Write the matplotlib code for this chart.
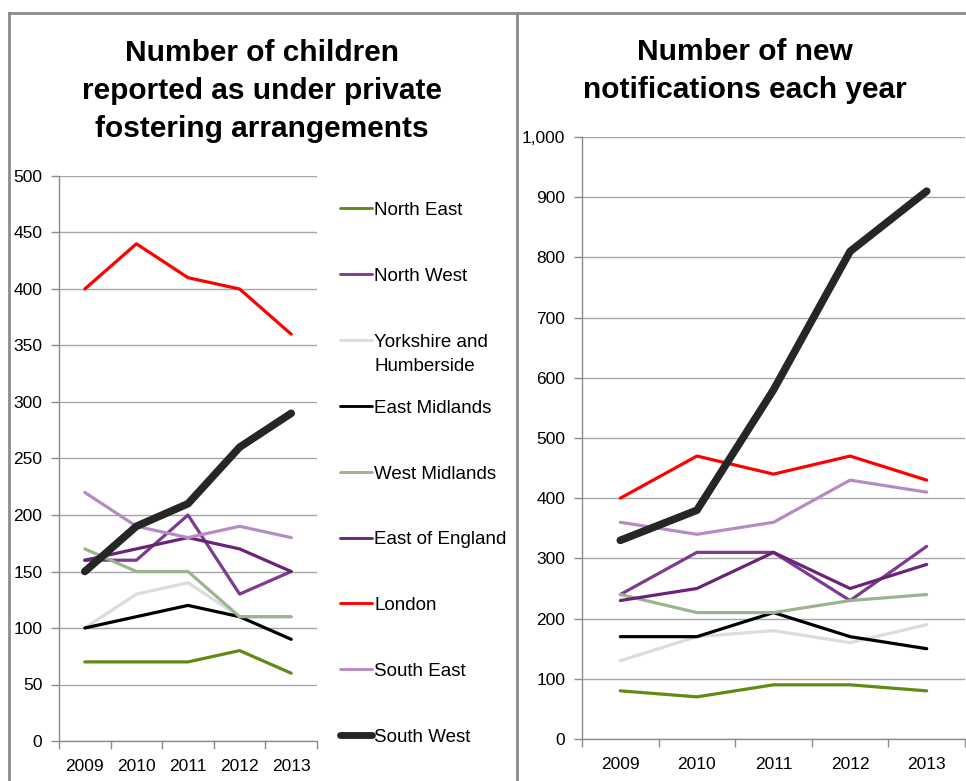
import numpy as np
import matplotlib.pyplot as plt
from matplotlib.lines import Line2D
from matplotlib.ticker import MultipleLocator, FuncFormatter

plt.rcParams['font.family'] = ['Liberation Sans', 'DejaVu Sans']

years = ['2009', '2010', '2011', '2012', '2013']
regions = ['North East', 'North West', 'Yorkshire and\nHumberside', 'East Midlands',
           'West Midlands', 'East of England', 'London', 'South East', 'South West']

# children under private fostering arrangements
children = {
    'North East': [70, 70, 70, 80, 60],
    'North West': [160, 160, 200, 130, 150],
    'Yorkshire and\nHumberside': [100, 130, 140, 110, 110],
    'East Midlands': [100, 110, 120, 110, 90],
    'West Midlands': [170, 150, 150, 110, 110],
    'East of England': [160, 170, 180, 170, 150],
    'London': [400, 440, 410, 400, 360],
    'South East': [220, 190, 180, 190, 180],
    'South West': [150, 190, 210, 260, 290],
}

# new notifications each year
notifications = {
    'North East': [80, 70, 90, 90, 80],
    'North West': [240, 310, 310, 230, 320],
    'Yorkshire and\nHumberside': [130, 170, 180, 160, 190],
    'East Midlands': [170, 170, 210, 170, 150],
    'West Midlands': [240, 210, 210, 230, 240],
    'East of England': [230, 250, 310, 250, 290],
    'London': [400, 470, 440, 470, 430],
    'South East': [360, 340, 360, 430, 410],
    'South West': [330, 380, 580, 810, 910],
}

colors = {
    'North East': '#5f8a14',
    'North West': '#7d3a8f',
    'Yorkshire and\nHumberside': '#dcdcdc',
    'East Midlands': '#000000',
    'West Midlands': '#9db38f',
    'East of England': '#6a2477',
    'London': '#ff0000',
    'South East': '#b58cc2',
    'South West': '#262626',
}
widths = {r: 2.3 for r in regions}
widths['South West'] = 5.5

W, H = 966, 781
fig = plt.figure(figsize=(W / 100, H / 100), dpi=100)
ax1 = fig.add_axes([59/W, 40/H, 258/W, 565/H])
ax2 = fig.add_axes([582/W, 42/H, 383/W, 602/H])

x = np.arange(len(years))


def style(ax, top, step, fmt):
    ax.set_xlim(-0.5, len(years) - 0.5)
    ax.set_ylim(0, top)
    ax.yaxis.set_major_locator(MultipleLocator(step))
    ax.yaxis.set_major_formatter(FuncFormatter(fmt))
    ax.set_xticks(x)
    ax.set_xticklabels(years)
    ax.set_xticks(np.arange(-0.5, len(years)), minor=True)
    ax.tick_params(axis='x', which='major', length=0, pad=13, labelsize=12.5)
    ax.tick_params(axis='x', which='minor', length=6, color='#8c8c8c', width=1)
    ax.tick_params(axis='y', length=6, color='#8c8c8c', width=1, pad=6, labelsize=12.5)
    ax.grid(axis='y', color='#a6a6a6', linewidth=1)
    ax.set_axisbelow(True)
    for s in ['top', 'right']:
        ax.spines[s].set_visible(False)
    for s in ['left', 'bottom']:
        ax.spines[s].set_color('#8c8c8c')
        ax.spines[s].set_linewidth(1)


for r in regions:
    ax1.plot(x, children[r], color=colors[r], lw=widths[r],
             solid_capstyle='round', solid_joinstyle='round')
    ax2.plot(x, notifications[r], color=colors[r], lw=widths[r],
             solid_capstyle='round', solid_joinstyle='round')

style(ax1, 500, 50, lambda v, p: f'{int(v)}')
style(ax2, 1000, 100, lambda v, p: f'{int(v):,}')

# legend, Excel style: fixed slots, two-line label spills downwards
for i, r in enumerate(regions):
    yc = 1 - (208 + i * 65.9) / H
    fig.add_artist(Line2D([340/W, 372/W], [yc, yc], color=colors[r], lw=widths[r] * 0.9,
                          solid_capstyle='round', transform=fig.transFigure))
    fig.text(374/W, yc + 6/H, r, ha='left', va='top', fontsize=13.5, linespacing=1.55)

fig.text(262/W, 1 - 91/H, 'Number of children\nreported as under private\nfostering arrangements',
         ha='center', va='center', fontsize=21.5, fontweight='bold', linespacing=1.45)
fig.text(745/W, 1 - 71/H, 'Number of new\nnotifications each year',
         ha='center', va='center', fontsize=21.5, fontweight='bold', linespacing=1.45)

# panel frame lines
frame = dict(color='#8c8c8c', linewidth=2, transform=fig.transFigure)
fig.add_artist(Line2D([9/W, 1], [1 - 13/H] * 2, **frame))
fig.add_artist(Line2D([9/W] * 2, [0, 1 - 13/H], **frame))
fig.add_artist(Line2D([517/W] * 2, [0, 1 - 13/H], **frame))

fig.savefig('out.png', dpi=100)
